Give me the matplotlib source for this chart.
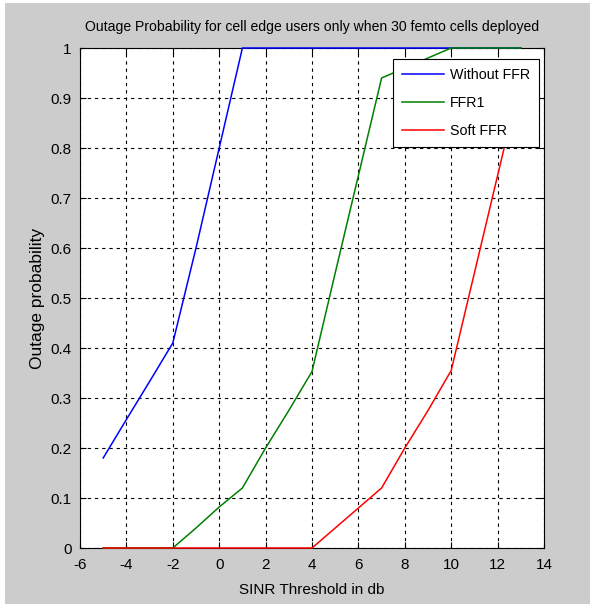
import matplotlib
matplotlib.use("Agg")
import matplotlib.pyplot as plt
import matplotlib.patches as patches

#____________________________________________________________________________________________________
# data
x_blue = [-5, -4, -3, -2, -1, 0, 1, 2, 3, 4, 5, 6, 7, 8, 9, 10, 11, 12, 13]
y_blue = [0.18, 0.257, 0.333, 0.41, 0.6, 0.8, 1.0, 1.0, 1.0, 1.0, 1.0, 1.0, 1.0, 1.0, 1.0, 1.0, 1.0, 1.0, 1.0]

x_green = [-5, -4, -3, -2, -1, 0, 1, 2, 3, 4, 5, 6, 7, 8, 9, 10, 11, 12, 13]
y_green = [0, 0, 0, 0, 0.04, 0.082, 0.12, 0.2, 0.275, 0.353, 0.55, 0.745, 0.94, 0.96, 0.98, 1.0, 1.0, 1.0, 1.0]

x_red = [-5, -4, -3, -2, -1, 0, 1, 2, 3, 4, 5, 6, 7, 8, 9, 10, 11, 12, 13]
y_red = [0, 0, 0, 0, 0, 0, 0, 0, 0, 0, 0.04, 0.08, 0.12, 0.2, 0.275, 0.355, 0.55, 0.745, 0.94]

labels = ["Without FFR", "FFR1", "Soft FFR"]
x_ticks = [-6, -4, -2, 0, 2, 4, 6, 8, 10, 12, 14]
y_ticks = [0, 0.1, 0.2, 0.3, 0.4, 0.5, 0.6, 0.7, 0.8, 0.9, 1]
y_ticklabels = ["0", "0.1", "0.2", "0.3", "0.4", "0.5", "0.6", "0.7", "0.8", "0.9", "1"]

#____________________________________________________________________________________________________
# set up
plt.rcParams['font.family'] = ['Liberation Sans', 'DejaVu Sans']
plt.rcParams['axes.unicode_minus'] = False
fs = 10.3

grey = '#cccccc'
fig = plt.figure(figsize=(5.9, 6.04), dpi=100, facecolor='white')
fig.patches.append(patches.Rectangle((5/590, 0), 1, 1 - 3/604, transform=fig.transFigure,
                                     facecolor=grey, edgecolor='none', zorder=-10))

ax = fig.add_axes([80/590, 1 - 548/604, 464/590, 500/604])
ax.plot(x_blue, y_blue, color='#0000ff', lw=1.1, label=labels[0], clip_on=False, zorder=3)
ax.plot(x_green, y_green, color='#008000', lw=1.1, label=labels[1], clip_on=False, zorder=3)
ax.plot(x_red, y_red, color='#ff0000', lw=1.1, label=labels[2], clip_on=False, zorder=3)

ax.set_xlim(-6, 14)
ax.set_ylim(0, 1)
ax.set_xticks(x_ticks)
ax.set_yticks(y_ticks)
ax.set_yticklabels(y_ticklabels)
ax.tick_params(direction='in', length=4, labelsize=fs + 0.7, colors='black', top=True, right=True)
ax.tick_params(axis='x', pad=7)
ax.tick_params(axis='y', pad=6)
ax.grid(True, color='black', linestyle=(0, (3, 3.5)), linewidth=0.8)
for s in ax.spines.values():
    s.set_linewidth(0.8)

ax.set_title("Outage Probability for cell edge users only when 30 femto cells deployed",
             fontsize=10.05, pad=12)
ax.set_xlabel("SINR Threshold in db", fontsize=fs + 0.7, labelpad=8)
ax.set_ylabel("Outage probability", fontsize=12.5, labelpad=4)

leg = ax.legend(loc='upper right', bbox_to_anchor=(0.989, 0.978), fontsize=fs, fancybox=False,
                framealpha=1, edgecolor='black', borderpad=0.6, labelspacing=1.0,
                handlelength=3.0, handletextpad=0.4, borderaxespad=0)
leg.get_frame().set_linewidth(0.8)

fig.savefig("out.png", dpi=100, facecolor=fig.get_facecolor())
